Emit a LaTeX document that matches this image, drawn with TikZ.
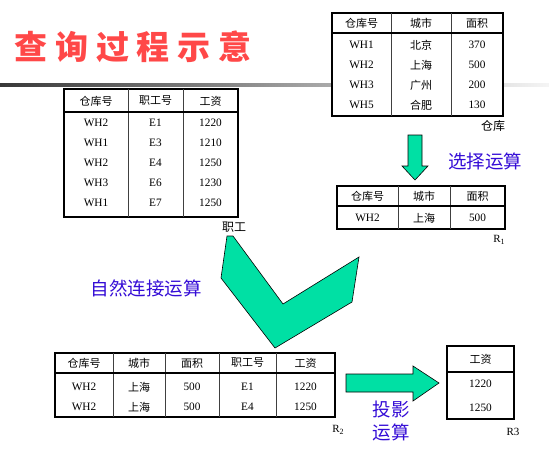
\documentclass[tikz,border=0pt]{standalone}
\usepackage{fontspec}
\setmainfont{Liberation Serif}
\newfontfamily\cjk{Noto Sans CJK SC}
\definecolor{arrowgreen}{RGB}{0,224,164}
\definecolor{titlered}{RGB}{255,72,72}
\definecolor{opblue}{RGB}{52,12,214}
\begin{document}
\begin{tikzpicture}[x=1pt,y=-1pt,
  outer/.style={line width=1.6pt, fill=white},
  inner/.style={line width=0.8pt, draw=black!75},
  hsep/.style={line width=1.4pt},
  lat/.style={inner sep=0pt, font=\fontsize{11.3}{13}\selectfont},
  han/.style={inner sep=0pt, font=\cjk\fontsize{11}{13}\selectfont},
  lbl/.style={inner sep=0pt, font=\cjk\fontsize{12}{14}\selectfont},
  rlbl/.style={inner sep=0pt, font=\fontsize{11}{13}\selectfont},
  op/.style={inner sep=0pt, text=opblue, font=\cjk\fontsize{18.5}{22}\selectfont},
  blockarrow/.style={fill=arrowgreen, draw=black, line width=0.6pt, line join=miter}
]
\useasboundingbox (0,0) rectangle (549,453);
% title
\node[inner sep=0pt, anchor=west, text=titlered,
  font=\cjk\bfseries\fontsize{33}{36}\selectfont\addfontfeature{LetterSpace=24}]
  (title) at (14,47) {查询过程示意};
\shade[left color=black!78, right color=black!4] (0,83.8) rectangle (549,86.2);

% table 仓库
\draw[outer] (332,13) rectangle (503,116);
\draw[inner] (391,13) -- (391,116) (451,13) -- (451,116);
\draw[hsep] (332,33) -- (503,33);
\foreach \h/\x [count=\i] in {仓库号/361.5, 城市/421, 面积/477}
  \node[han] (ah\i) at (\x,23) {\h};
\foreach \a/\b/\c [count=\i] in {WH1/北京/370, WH2/上海/500, WH3/广州/200, WH5/合肥/130}{
  \node[lat] (ar\i a) at (361.5,25+20*\i) {\a};
  \node[han] (ar\i b) at (421,25+20*\i) {\b};
  \node[lat] (ar\i c) at (477,25+20*\i) {\c};
}
\node[lbl] (lcangku) at (493,126) {仓库};

% table 职工
\draw[outer] (64,89) rectangle (238,217);
\draw[inner] (128,89) -- (128,217) (183,89) -- (183,217);
\draw[hsep] (64,112) -- (238,112);
\foreach \h/\x [count=\i] in {仓库号/96, 职工号/155.5, 工资/210.5}
  \node[han] (bh\i) at (\x,101) {\h};
\foreach \a/\b/\c [count=\i] in {WH2/E1/1220, WH1/E3/1210, WH2/E4/1250, WH3/E6/1230, WH1/E7/1250}{
  \node[lat] (br\i a) at (96,103+20*\i) {\a};
  \node[lat] (br\i b) at (155.5,103+20*\i) {\b};
  \node[lat] (br\i c) at (210.5,103+20*\i) {\c};
}

% selection arrow
\draw[blockarrow] (408,135) -- (422,135) -- (422,166) -- (428,166) -- (415,180)
  -- (402,166) -- (408,166) -- cycle;
\node[op] (opsel) at (485,161) {选择运算};

% R1
\draw[outer] (337,186) rectangle (505,229);
\draw[inner] (398,186) -- (398,229) (450,186) -- (450,229);
\draw[hsep] (337,206) -- (505,206);
\foreach \h/\x [count=\i] in {仓库号/367.5, 城市/424, 面积/477.5}
  \node[han] (ch\i) at (\x,196) {\h};
\node[lat] (cr1a) at (367.5,218) {WH2};
\node[han] (cr1b) at (424,218) {上海};
\node[lat] (cr1c) at (477.5,218) {500};
\node[rlbl] (lr1) at (499,240) {R\raisebox{-0.35ex}{\fontsize{8}{8}\selectfont 1}};

% join arrow (V shape)
\draw[blockarrow] (227,236) -- (221,278) -- (275,348) -- (352,302) -- (359,257)
  -- (283,304) -- (233,236) -- cycle;
\node[lbl, fill=white, inner sep=0.5pt] (lzhigong) at (234,227) {职工};
\node[op] (opjoin) at (146,288) {自然连接运算};

% R2
\draw[outer] (55,353) rectangle (335,417);
\draw[inner] (113,353) -- (113,417) (165,353) -- (165,417) (219,353) -- (219,417) (276,353) -- (276,417);
\draw[hsep] (55,373) -- (335,373);
\foreach \h/\x [count=\i] in {仓库号/84, 城市/139, 面积/192, 职工号/247.5, 工资/305.5}
  \node[han] (dh\i) at (\x,363) {\h};
\foreach \a/\b/\c/\d/\e [count=\i] in {WH2/上海/500/E1/1220, WH2/上海/500/E4/1250}{
  \node[lat] (dr\i a) at (84,367+20*\i) {\a};
  \node[han] (dr\i b) at (139,367+20*\i) {\b};
  \node[lat] (dr\i c) at (192,367+20*\i) {\c};
  \node[lat] (dr\i d) at (247.5,367+20*\i) {\d};
  \node[lat] (dr\i e) at (305.5,367+20*\i) {\e};
}
\node[rlbl] (lr2) at (338,430) {R\raisebox{-0.35ex}{\fontsize{8}{8}\selectfont 2}};

% projection arrow
\draw[blockarrow] (346,374) -- (413,374) -- (413,366) -- (439,383) -- (413,401)
  -- (413,392) -- (346,392) -- cycle;
\node[op] (opproj1) at (391,409) {投影};
\node[op] (opproj2) at (391,432) {运算};

% R3
\draw[outer] (447,346) rectangle (514,419);
\draw[hsep] (447,372) -- (514,372);
\node[han] (eh1) at (480.5,359) {工资};
\node[lat] (er1) at (480.5,384) {1220};
\node[lat] (er2) at (480.5,408) {1250};
\node[rlbl] (lr3) at (513,432) {R3};
\end{tikzpicture}
\end{document}
